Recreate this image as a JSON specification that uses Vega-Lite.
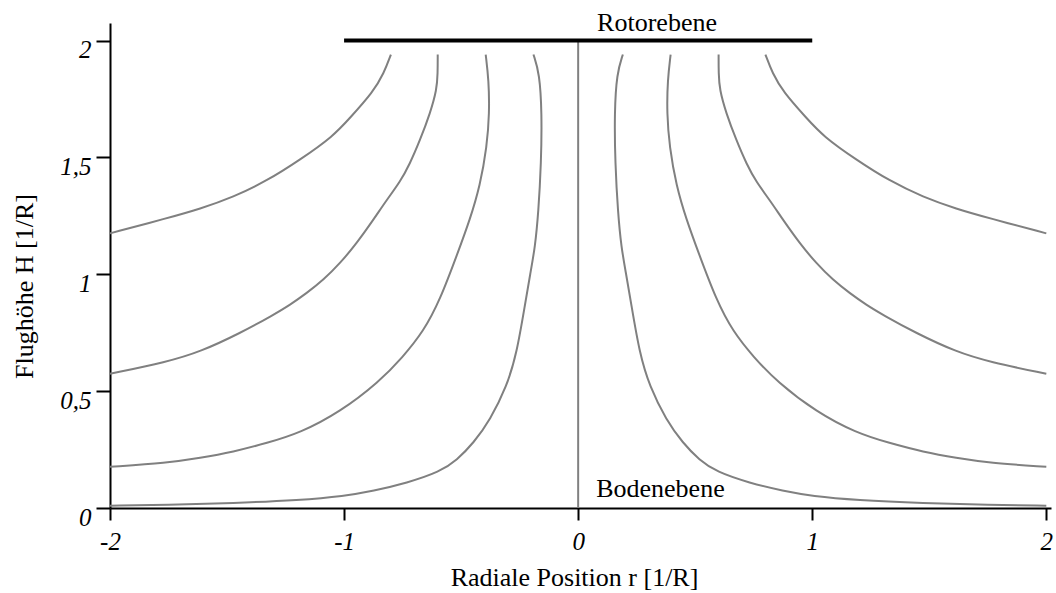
{
  "$schema": "https://vega.github.io/schema/vega-lite/v6.json",
  "width": 941,
  "height": 485,
  "autosize": {"type": "none"},
  "padding": {"left": 110, "top": 23, "right": 5, "bottom": 85},
  "background": "white",
  "config": {
    "view": {"stroke": null},
    "axis": {
      "grid": false,
      "domainColor": "black",
      "domainWidth": 2,
      "tickColor": "black",
      "tickWidth": 2,
      "labelFont": "Liberation Serif",
      "labelFontStyle": "italic",
      "labelFontSize": 25,
      "labelColor": "black",
      "titleFont": "Liberation Serif",
      "titleFontSize": 26,
      "titleFontWeight": "normal",
      "titleColor": "black"
    }
  },
  "datasets": {
    "stream": [
      {"c":"a1","i":0,"r":-0.8,"h":1.94},{"c":"a1","i":1,"r":-0.83,"h":1.86},{"c":"a1","i":2,"r":-0.876,"h":1.78},{"c":"a1","i":3,"r":-0.974,"h":1.67},{"c":"a1","i":4,"r":-1.047,"h":1.59},{"c":"a1","i":5,"r":-1.188,"h":1.49},{"c":"a1","i":6,"r":-1.329,"h":1.4},{"c":"a1","i":7,"r":-1.474,"h":1.33},{"c":"a1","i":8,"r":-1.615,"h":1.28},{"c":"a1","i":9,"r":-1.756,"h":1.24},{"c":"a1","i":10,"r":-2.0,"h":1.175},
      {"c":"a2","i":0,"r":-0.6,"h":1.94},{"c":"a2","i":1,"r":-0.6,"h":1.86},{"c":"a2","i":2,"r":-0.604,"h":1.79},{"c":"a2","i":3,"r":-0.632,"h":1.69},{"c":"a2","i":4,"r":-0.675,"h":1.575},{"c":"a2","i":5,"r":-0.72,"h":1.47},{"c":"a2","i":6,"r":-0.761,"h":1.395},{"c":"a2","i":7,"r":-0.818,"h":1.318},{"c":"a2","i":8,"r":-0.875,"h":1.233},{"c":"a2","i":9,"r":-0.946,"h":1.133},{"c":"a2","i":10,"r":-1.017,"h":1.047},{"c":"a2","i":11,"r":-1.088,"h":0.976},{"c":"a2","i":12,"r":-1.16,"h":0.919},{"c":"a2","i":13,"r":-1.231,"h":0.869},{"c":"a2","i":14,"r":-1.302,"h":0.826},{"c":"a2","i":15,"r":-1.444,"h":0.748},{"c":"a2","i":16,"r":-1.615,"h":0.668},{"c":"a2","i":17,"r":-1.756,"h":0.625},{"c":"a2","i":18,"r":-2.0,"h":0.574},
      {"c":"a3","i":0,"r":-0.395,"h":1.94},{"c":"a3","i":1,"r":-0.382,"h":1.83},{"c":"a3","i":2,"r":-0.379,"h":1.69},{"c":"a3","i":3,"r":-0.39,"h":1.545},{"c":"a3","i":4,"r":-0.419,"h":1.38},{"c":"a3","i":5,"r":-0.462,"h":1.235},{"c":"a3","i":6,"r":-0.515,"h":1.09},{"c":"a3","i":7,"r":-0.59,"h":0.89},{"c":"a3","i":8,"r":-0.661,"h":0.755},{"c":"a3","i":9,"r":-0.75,"h":0.645},{"c":"a3","i":10,"r":-0.85,"h":0.54},{"c":"a3","i":11,"r":-1.017,"h":0.411},{"c":"a3","i":12,"r":-1.188,"h":0.321},{"c":"a3","i":13,"r":-1.329,"h":0.278},{"c":"a3","i":14,"r":-1.474,"h":0.24},{"c":"a3","i":15,"r":-1.615,"h":0.214},{"c":"a3","i":16,"r":-1.756,"h":0.193},{"c":"a3","i":17,"r":-2.0,"h":0.176},
      {"c":"a4","i":0,"r":-0.191,"h":1.94},{"c":"a4","i":1,"r":-0.165,"h":1.86},{"c":"a4","i":2,"r":-0.155,"h":1.69},{"c":"a4","i":3,"r":-0.158,"h":1.477},{"c":"a4","i":4,"r":-0.17,"h":1.263},{"c":"a4","i":5,"r":-0.184,"h":1.117},{"c":"a4","i":6,"r":-0.205,"h":1.0},{"c":"a4","i":7,"r":-0.226,"h":0.877},{"c":"a4","i":8,"r":-0.262,"h":0.663},{"c":"a4","i":9,"r":-0.305,"h":0.52},{"c":"a4","i":10,"r":-0.376,"h":0.377},{"c":"a4","i":11,"r":-0.447,"h":0.278},{"c":"a4","i":12,"r":-0.518,"h":0.205},{"c":"a4","i":13,"r":-0.59,"h":0.155},{"c":"a4","i":14,"r":-0.732,"h":0.107},{"c":"a4","i":15,"r":-0.876,"h":0.073},{"c":"a4","i":16,"r":-1.0,"h":0.051},{"c":"a4","i":17,"r":-1.188,"h":0.034},{"c":"a4","i":18,"r":-1.474,"h":0.021},{"c":"a4","i":19,"r":-1.756,"h":0.013},{"c":"a4","i":20,"r":-2.0,"h":0.01},
      {"c":"b1","i":0,"r":0.8,"h":1.94},{"c":"b1","i":1,"r":0.83,"h":1.86},{"c":"b1","i":2,"r":0.876,"h":1.78},{"c":"b1","i":3,"r":0.974,"h":1.67},{"c":"b1","i":4,"r":1.047,"h":1.59},{"c":"b1","i":5,"r":1.188,"h":1.49},{"c":"b1","i":6,"r":1.329,"h":1.4},{"c":"b1","i":7,"r":1.474,"h":1.33},{"c":"b1","i":8,"r":1.615,"h":1.28},{"c":"b1","i":9,"r":1.756,"h":1.24},{"c":"b1","i":10,"r":2.0,"h":1.175},
      {"c":"b2","i":0,"r":0.6,"h":1.94},{"c":"b2","i":1,"r":0.6,"h":1.86},{"c":"b2","i":2,"r":0.604,"h":1.79},{"c":"b2","i":3,"r":0.632,"h":1.69},{"c":"b2","i":4,"r":0.675,"h":1.575},{"c":"b2","i":5,"r":0.72,"h":1.47},{"c":"b2","i":6,"r":0.761,"h":1.395},{"c":"b2","i":7,"r":0.818,"h":1.318},{"c":"b2","i":8,"r":0.875,"h":1.233},{"c":"b2","i":9,"r":0.946,"h":1.133},{"c":"b2","i":10,"r":1.017,"h":1.047},{"c":"b2","i":11,"r":1.088,"h":0.976},{"c":"b2","i":12,"r":1.16,"h":0.919},{"c":"b2","i":13,"r":1.231,"h":0.869},{"c":"b2","i":14,"r":1.302,"h":0.826},{"c":"b2","i":15,"r":1.444,"h":0.748},{"c":"b2","i":16,"r":1.615,"h":0.668},{"c":"b2","i":17,"r":1.756,"h":0.625},{"c":"b2","i":18,"r":2.0,"h":0.574},
      {"c":"b3","i":0,"r":0.395,"h":1.94},{"c":"b3","i":1,"r":0.382,"h":1.83},{"c":"b3","i":2,"r":0.379,"h":1.69},{"c":"b3","i":3,"r":0.39,"h":1.545},{"c":"b3","i":4,"r":0.419,"h":1.38},{"c":"b3","i":5,"r":0.462,"h":1.235},{"c":"b3","i":6,"r":0.515,"h":1.09},{"c":"b3","i":7,"r":0.59,"h":0.89},{"c":"b3","i":8,"r":0.661,"h":0.755},{"c":"b3","i":9,"r":0.75,"h":0.645},{"c":"b3","i":10,"r":0.85,"h":0.54},{"c":"b3","i":11,"r":1.017,"h":0.411},{"c":"b3","i":12,"r":1.188,"h":0.321},{"c":"b3","i":13,"r":1.329,"h":0.278},{"c":"b3","i":14,"r":1.474,"h":0.24},{"c":"b3","i":15,"r":1.615,"h":0.214},{"c":"b3","i":16,"r":1.756,"h":0.193},{"c":"b3","i":17,"r":2.0,"h":0.176},
      {"c":"b4","i":0,"r":0.191,"h":1.94},{"c":"b4","i":1,"r":0.165,"h":1.86},{"c":"b4","i":2,"r":0.155,"h":1.69},{"c":"b4","i":3,"r":0.158,"h":1.477},{"c":"b4","i":4,"r":0.17,"h":1.263},{"c":"b4","i":5,"r":0.184,"h":1.117},{"c":"b4","i":6,"r":0.205,"h":1.0},{"c":"b4","i":7,"r":0.226,"h":0.877},{"c":"b4","i":8,"r":0.262,"h":0.663},{"c":"b4","i":9,"r":0.305,"h":0.52},{"c":"b4","i":10,"r":0.376,"h":0.377},{"c":"b4","i":11,"r":0.447,"h":0.278},{"c":"b4","i":12,"r":0.518,"h":0.205},{"c":"b4","i":13,"r":0.59,"h":0.155},{"c":"b4","i":14,"r":0.732,"h":0.107},{"c":"b4","i":15,"r":0.876,"h":0.073},{"c":"b4","i":16,"r":1.0,"h":0.051},{"c":"b4","i":17,"r":1.188,"h":0.034},{"c":"b4","i":18,"r":1.474,"h":0.021},{"c":"b4","i":19,"r":1.756,"h":0.013},{"c":"b4","i":20,"r":2.0,"h":0.01}
    ],
    "rotor": [{"r": -1, "r2": 1, "h": 2}],
    "center": [{"r": 0, "h": 0, "h2": 2}],
    "labels": [
      {"r": 0.081, "h": 2.042, "label": "Rotorebene"},
      {"r": 0.077, "h": 0.047, "label": "Bodenebene"}
    ]
  },
  "encoding": {
    "x": {
      "field": "r",
      "type": "quantitative",
      "scale": {"domain": [-2, 2.02], "nice": false, "zero": false},
      "axis": {
        "title": "Radiale Position r [1/R]",
        "values": [-2, -1, 0, 1, 2],
        "labelExpr": "datum.value < 0 ? '-' + format(-datum.value, 'd') : format(datum.value, 'd')",
        "tickSize": 12,
        "labelPadding": 9,
        "labelBaseline": "top",
        "labelFlush": false,
        "titleX": 464,
        "titleY": 77,
        "titleBaseline": "alphabetic",
        "titleAlign": "center"
      }
    },
    "y": {
      "field": "h",
      "type": "quantitative",
      "scale": {"domain": [0, 2.075], "nice": false, "zero": false},
      "axis": {
        "title": "Flughöhe H [1/R]",
        "values": [0, 0.5, 1, 1.5, 2],
        "labelExpr": "replace(format(datum.value, '~g'), '.', ',')",
        "tickSize": 14,
        "labelPadding": 5,
        "labelBaseline": "alphabetic",
        "labelOffset": 17,
        "labelFlush": false,
        "titleX": -78,
        "titleY": 263,
        "titleAngle": 270,
        "titleBaseline": "alphabetic",
        "titleAlign": "center"
      }
    }
  },
  "layer": [
    {
      "data": {"name": "center"},
      "mark": {"type": "rule", "color": "#808080", "strokeWidth": 2},
      "encoding": {"y2": {"field": "h2"}}
    },
    {
      "data": {"name": "stream"},
      "mark": {"type": "line", "color": "#808080", "strokeWidth": 2, "interpolate": "basis"},
      "encoding": {
        "detail": {"field": "c", "type": "nominal"},
        "order": {"field": "i", "type": "quantitative"}
      }
    },
    {
      "data": {"name": "rotor"},
      "mark": {"type": "rule", "color": "black", "strokeWidth": 4},
      "encoding": {"x2": {"field": "r2"}}
    },
    {
      "data": {"name": "labels"},
      "mark": {"type": "text", "font": "Liberation Serif", "fontSize": 26, "align": "left", "baseline": "alphabetic", "color": "black"},
      "encoding": {"text": {"field": "label", "type": "nominal"}}
    }
  ]
}
